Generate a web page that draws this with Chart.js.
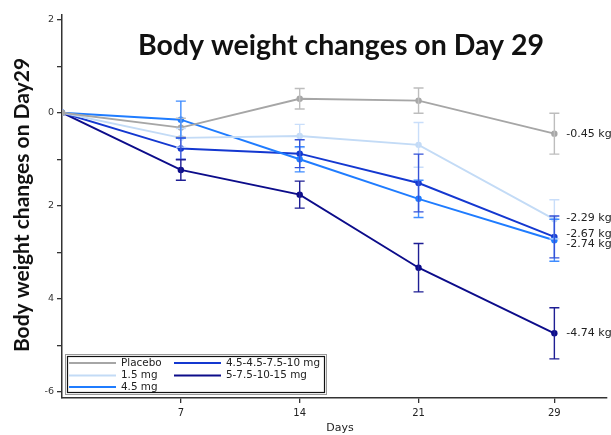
<!DOCTYPE html>
<html>
<head>
<meta charset="utf-8">
<script src="https://cdn.jsdelivr.net/npm/chart.js@4/dist/chart.umd.min.js"></script>
<style>
html,body{margin:0;padding:0;background:#fff;}
canvas{display:block;}
</style>
</head>
<body>
<canvas id="c" width="611" height="435"></canvas>
<script>
// ---- data ----
const days = [0, 7, 14, 21, 29];
const seriesNames = ["Placebo", "1.5 mg", "4.5 mg", "4.5-4.5-7.5-10 mg", "5-7.5-10-15 mg"];
const placebo     = [0, -0.32,  0.30,  0.26, -0.45];
const placeboErr  = [0,  0.20,  0.22,  0.27,  0.44];
const mg15        = [0, -0.54, -0.50, -0.69, -2.29];
const mg15Err     = [0,  0.20,  0.25,  0.48,  0.42];
const mg45        = [0, -0.15, -1.00, -1.85, -2.74];
const mg45Err     = [0,  0.40,  0.27,  0.40,  0.45];
const mg4510      = [0, -0.77, -0.88, -1.51, -2.67];
const mg4510Err   = [0,  0.23,  0.30,  0.62,  0.45];
const mg515       = [0, -1.23, -1.76, -3.33, -4.74];
const mg515Err    = [0,  0.22,  0.29,  0.52,  0.55];
const endLabels   = ["-0.45 kg", "-2.29 kg", "-2.74 kg", "-2.67 kg", "-4.74 kg"];
const xTickValues = [7, 14, 21, 29];
const yTickValues = [2, 0, -2, -4, -6];
const yTickLabels = ["2", "0", "2", "4", "-6"];
const chartTitle = "Body weight changes on Day 29";
const yTitle = "Body weight changes on Day29";
const xTitle = "Days";

// ---- styles ----
const colors    = ["#a6a6a6", "#c3dbf6", "#1f7cff", "#1438d0", "#0c0c8a"];
const errColors = ["#bdbdbd", "#c9defa", "#3f8cff", "#3552d8", "#1e1e94"];
const labelDy   = [0, -1, 4, -3, 0];

const values = [placebo, mg15, mg45, mg4510, mg515];
const errs = [placeboErr, mg15Err, mg45Err, mg4510Err, mg515Err];

const datasets = values.map((vals, i) => ({
  label: seriesNames[i],
  data: days.map((d, j) => ({x: d, y: vals[j]})),
  borderColor: colors[i],
  backgroundColor: colors[i],
  pointBackgroundColor: colors[i],
  pointBorderWidth: 0,
  pointRadius: 3.2,
  borderWidth: 1.9,
  tension: 0,
  fill: false
}));

const yLabelMap = {};
yTickValues.forEach((v, i) => yLabelMap[v] = yTickLabels[i]);

const extras = {
  id: 'extras',
  afterDatasetsDraw(chart) {
    const ctx = chart.ctx;
    const xs = chart.scales.x, ys = chart.scales.y;
    ctx.save();
    // error bars
    errs.forEach((eArr, i) => {
      ctx.strokeStyle = errColors[i];
      ctx.lineWidth = 1.4;
      eArr.forEach((e, j) => {
        if (!e) return;
        const x = xs.getPixelForValue(days[j]);
        const y1 = ys.getPixelForValue(values[i][j] + e);
        const y2 = ys.getPixelForValue(values[i][j] - e);
        ctx.beginPath();
        ctx.moveTo(x, y1); ctx.lineTo(x, y2);
        ctx.moveTo(x - 5, y1); ctx.lineTo(x + 5, y1);
        ctx.moveTo(x - 5, y2); ctx.lineTo(x + 5, y2);
        ctx.stroke();
      });
    });
    // end labels
    ctx.fillStyle = "#222";
    ctx.font = "11px 'DejaVu Sans'";
    ctx.textBaseline = "middle";
    ctx.textAlign = "left";
    values.forEach((vals, i) => {
      const last = vals.length - 1;
      const x = xs.getPixelForValue(days[last]) + 12;
      const y = ys.getPixelForValue(vals[last]) + labelDy[i];
      ctx.fillText(endLabels[i], x, y);
    });
    // title
    ctx.fillStyle = "#111";
    ctx.font = "bold 28.5px Lato";
    ctx.textAlign = "center";
    ctx.fillText(chartTitle, 341, 46);
    // y title
    ctx.save();
    ctx.translate(22, 205);
    ctx.rotate(-Math.PI / 2);
    ctx.font = "bold 21px Lato";
    ctx.fillText(yTitle, 0, 0);
    ctx.restore();
    // x title
    ctx.font = "11px 'DejaVu Sans'";
    ctx.fillStyle = "#222";
    ctx.fillText(xTitle, 340, 428);
    // legend
    const bx = 66, by = 355, bw = 260, bh = 39;
    ctx.fillStyle = "#fff";
    ctx.fillRect(bx, by, bw, bh);
    ctx.strokeStyle = "#999";
    ctx.lineWidth = 1;
    ctx.strokeRect(bx - 0.5, by - 0.5, bw + 1, bh + 1);
    ctx.strokeStyle = "#111";
    ctx.lineWidth = 1.2;
    ctx.strokeRect(bx + 1.5, by + 1.5, bw - 3, bh - 3);
    const cols = [[0, 1, 2], [3, 4]];
    const colX = [69, 174];
    const rowY = [363, 375.5, 387];
    ctx.font = "10.4px 'DejaVu Sans'";
    ctx.textAlign = "left";
    cols.forEach((col, c) => {
      col.forEach((si, r) => {
        const x = colX[c], y = rowY[r];
        ctx.strokeStyle = colors[si];
        ctx.lineWidth = 2;
        ctx.beginPath();
        ctx.moveTo(x, y); ctx.lineTo(x + 47, y);
        ctx.stroke();
        ctx.fillStyle = "#222";
        ctx.fillText(seriesNames[si], x + 52, y);
      });
    });
    ctx.restore();
  }
};

new Chart(document.getElementById('c'), {
  type: 'line',
  data: { datasets },
  options: {
    responsive: false,
    animation: false,
    layout: { padding: { top: 15, right: 0, left: 0, bottom: 0 } },
    plugins: { legend: { display: false }, tooltip: { enabled: false }, title: { display: false } },
    scales: {
      x: {
        type: 'linear',
        min: 0,
        max: 32.1,
        afterBuildTicks: ax => { ax.ticks = xTickValues.map(v => ({value: v})); },
        afterFit: s => { s.height = 37; },
        ticks: { color: "#222", font: { family: "DejaVu Sans", size: 10 }, padding: 4, autoSkip: false, maxRotation: 0 },
        grid: { drawOnChartArea: false, drawTicks: true, tickLength: 5, color: "#333", lineWidth: 1.3 },
        border: { color: "#333", width: 1.5 }
      },
      y: {
        type: 'linear',
        min: -6.13,
        max: 2.1,
        afterBuildTicks: ax => { const t = []; for (let v = -6; v <= 2; v++) t.push({value: v}); ax.ticks = t; },
        afterFit: s => { s.width = 62; },
        ticks: {
          color: "#333", font: { family: "DejaVu Sans", size: 9.5 }, padding: 3, autoSkip: false,
          callback: v => (v in yLabelMap ? yLabelMap[v] : "")
        },
        grid: { drawOnChartArea: false, drawTicks: true, tickLength: 5, color: "#333", lineWidth: 1.3 },
        border: { color: "#333", width: 1.5 }
      }
    }
  },
  plugins: [extras]
});
</script>
</body>
</html>
